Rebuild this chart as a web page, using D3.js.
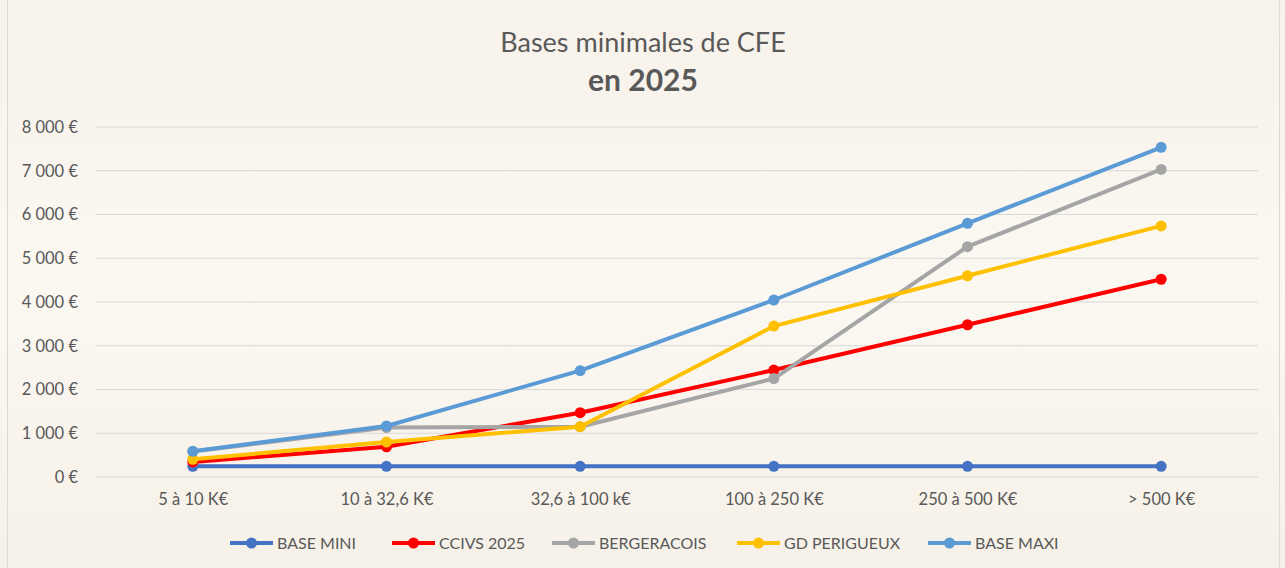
<!DOCTYPE html>
<html>
<head>
<meta charset="utf-8">
<script src="https://cdn.jsdelivr.net/npm/d3@7"></script>
<style>
  body { margin: 0; background: #f8f4ec; }
  svg { display: block; font-family: Lato, "Open Sans", sans-serif; }
</style>
</head>
<body>
<div id="chart"></div>
<script>
// Chart data
const categories = ["5 à 10 K€", "10 à 32,6 K€", "32,6 à 100 k€", "100 à 250 K€", "250 à 500 K€", "> 500 K€"];
const seriesNames = ["BASE MINI", "CCIVS 2025", "BERGERACOIS", "GD PERIGUEUX", "BASE MAXI"];
const baseMini = [243, 243, 243, 243, 243, 243];
const ccivs2025 = [345, 690, 1470, 2445, 3480, 4520];
const bergeracois = [585, 1130, 1150, 2250, 5265, 7030];
const gdPerigueux = [405, 800, 1150, 3450, 4600, 5740];
const baseMaxi = [588, 1166, 2430, 4046, 5798, 7535];
const yTicks = [0, 1000, 2000, 3000, 4000, 5000, 6000, 7000, 8000];

const seriesValues = [baseMini, ccivs2025, bergeracois, gdPerigueux, baseMaxi];
const colors = ["#4472C4", "#FF0000", "#A5A5A5", "#FFC000", "#5B9BD5"];

const svgWidth = 1285;
const svgHeight = 568;
const margin = { top: 127, right: 27, bottom: 91, left: 96 };
const width = svgWidth - margin.left - margin.right;
const height = svgHeight - margin.top - margin.bottom;

const svg = d3.select("#chart")
    .append("svg")
    .attr("width", svgWidth)
    .attr("height", svgHeight);

// light background, a bit warmer at top and bottom
const defs = svg.append("defs");
const grad = defs.append("linearGradient").attr("id", "bg").attr("x1", 0).attr("y1", 0).attr("x2", 0).attr("y2", 1);
grad.append("stop").attr("offset", "0%").attr("stop-color", "#f7f2ea");
grad.append("stop").attr("offset", "50%").attr("stop-color", "#fbf8f2");
grad.append("stop").attr("offset", "100%").attr("stop-color", "#f6f1e8");
svg.append("rect").attr("width", svgWidth).attr("height", svgHeight).attr("fill", "url(#bg)");

// frame
svg.append("rect")
    .attr("x", 7.5).attr("y", -2)
    .attr("width", 1272).attr("height", svgHeight + 4)
    .attr("fill", "none")
    .attr("stroke", "#dcd9d4");

// title
svg.append("text")
    .attr("x", 643).attr("y", 52)
    .attr("text-anchor", "middle")
    .attr("fill", "#595959")
    .style("font-size", "27px")
    .text("Bases minimales de CFE");
svg.append("text")
    .attr("x", 643).attr("y", 91)
    .attr("text-anchor", "middle")
    .attr("fill", "#595959")
    .style("font-size", "30px")
    .style("font-weight", "bold")
    .text("en 2025");

const g = svg.append("g").attr("transform", `translate(${margin.left}, ${margin.top})`);

const xScale = d3.scalePoint()
    .domain(categories)
    .range([0, width])
    .padding(0.5);

const yScale = d3.scaleLinear()
    .domain([0, 8000])
    .range([height, 0]);

// gridlines
g.append("g")
    .selectAll("line")
    .data(yTicks)
    .enter()
    .append("line")
    .attr("x1", 0).attr("x2", width)
    .attr("y1", d => yScale(d)).attr("y2", d => yScale(d))
    .attr("stroke", "#d9d9d9")
    .attr("stroke-width", 1.2);

// y axis
const leftAxis = d3.axisLeft(yScale)
    .tickValues(yTicks)
    .tickSize(0)
    .tickPadding(18)
    .tickFormat(d => d3.format(",")(d).replace(/,/g, " ") + " €");
const yAxis = g.append("g").call(leftAxis);
yAxis.select(".domain").remove();
yAxis.selectAll("text")
    .attr("fill", "#595959")
    .style("font-size", "16.5px")
    .style("font-family", "Lato, 'Open Sans', sans-serif");

// x axis
const bottomAxis = d3.axisBottom(xScale).tickSize(0).tickPadding(16);
const xAxis = g.append("g")
    .attr("transform", `translate(0, ${height})`)
    .call(bottomAxis);
xAxis.select(".domain").remove();
xAxis.selectAll("text")
    .attr("fill", "#595959")
    .style("font-size", "16.5px")
    .style("font-family", "Lato, 'Open Sans', sans-serif");

// lines and markers
const line = d3.line()
    .x((d, i) => xScale(categories[i]))
    .y(d => yScale(d));

seriesValues.forEach((values, s) => {
    g.append("path")
        .datum(values)
        .attr("d", line)
        .attr("fill", "none")
        .attr("stroke", colors[s])
        .attr("stroke-width", 4)
        .attr("stroke-linejoin", "round");
    g.selectAll(null)
        .data(values)
        .enter()
        .append("circle")
        .attr("cx", (d, i) => xScale(categories[i]))
        .attr("cy", d => yScale(d))
        .attr("r", 5.5)
        .attr("fill", colors[s]);
});

// legend
const legendX = [230, 392, 552, 737, 928];
const legend = svg.append("g").attr("transform", "translate(0, 543)");
seriesNames.forEach((name, s) => {
    const item = legend.append("g").attr("transform", `translate(${legendX[s]}, 0)`);
    item.append("line")
        .attr("x1", 0).attr("x2", 43)
        .attr("y1", 0).attr("y2", 0)
        .attr("stroke", colors[s])
        .attr("stroke-width", 4);
    item.append("circle")
        .attr("cx", 21.5).attr("cy", 0).attr("r", 5.5)
        .attr("fill", colors[s]);
    item.append("text")
        .attr("x", 47).attr("y", 5.5)
        .attr("fill", "#595959")
        .style("font-size", "16px")
        .text(name);
});
</script>
</body>
</html>
